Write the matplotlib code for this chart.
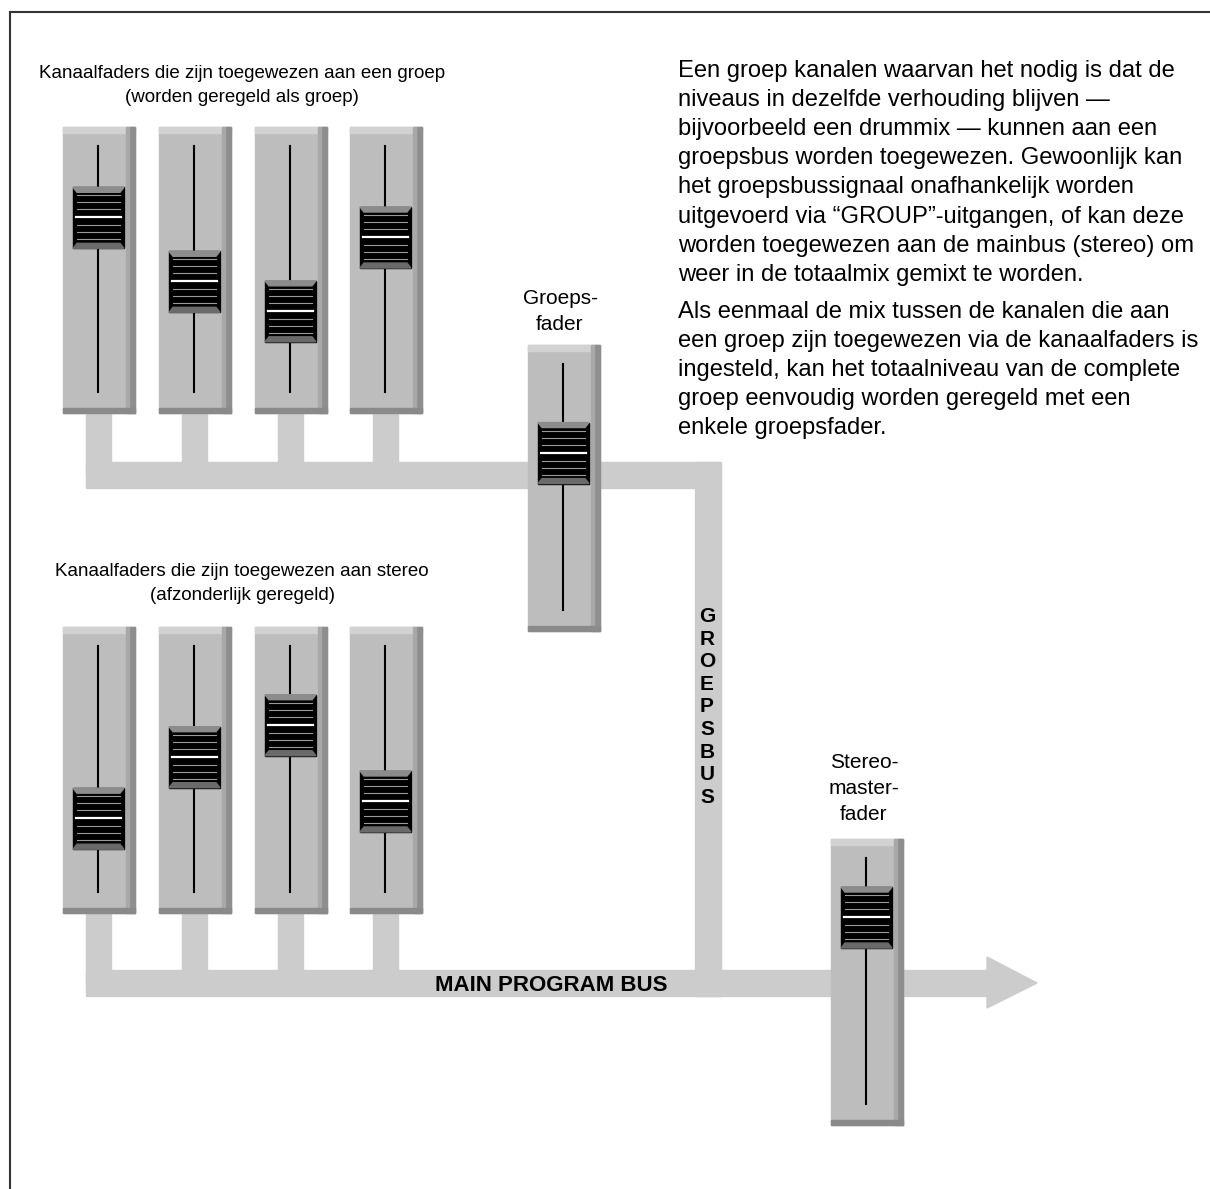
import matplotlib.pyplot as plt
from matplotlib.patches import Rectangle, Polygon

plt.rcParams['font.family'] = ['Liberation Sans', 'DejaVu Sans']

# fader levels (0 = bottom, 1 = top)
group_levels = [0.71, 0.45, 0.33, 0.63]
stereo_levels = [0.30, 0.55, 0.68, 0.37]
group_master_level = 0.64
stereo_master_level = 0.76

para1 = ["Een groep kanalen waarvan het nodig is dat de",
         "niveaus in dezelfde verhouding blijven \u2014",
         "bijvoorbeeld een drummix \u2014 kunnen aan een",
         "groepsbus worden toegewezen. Gewoonlijk kan",
         "het groepsbussignaal onafhankelijk worden",
         "uitgevoerd via \u201cGROUP\u201d-uitgangen, of kan deze",
         "worden toegewezen aan de mainbus (stereo) om",
         "weer in de totaalmix gemixt te worden."]
para2 = ["Als eenmaal de mix tussen de kanalen die aan",
         "een groep zijn toegewezen via de kanaalfaders is",
         "ingesteld, kan het totaalniveau van de complete",
         "groep eenvoudig worden geregeld met een",
         "enkele groepsfader."]

BUS = '#cccccc'
STRIP = '#bdbdbd'

fig = plt.figure(figsize=(12.1, 11.89), dpi=100)
ax = fig.add_axes([0, 0, 1, 1])
ax.set_xlim(0, 1210)
ax.set_ylim(1189, 0)
ax.axis('off')

# frame (only top and left visible)
ax.plot([10, 1210], [12, 12], color='#333333', lw=1.5)
ax.plot([10, 10], [12, 1189], color='#333333', lw=1.5)


def fader(x, top, level, w=72, h=286):
    # strip body
    ax.add_patch(Rectangle((x, top), w, h, color=STRIP, zorder=3))
    ax.add_patch(Rectangle((x, top), w, 6, color='#d2d2d2', zorder=3))
    ax.add_patch(Rectangle((x + w - 6, top), 6, h, color='#8e8e8e', zorder=3))
    ax.add_patch(Rectangle((x + w - 9, top), 3, h, color='#a8a8a8', zorder=3))
    ax.add_patch(Rectangle((x, top + h - 5), w, 5, color='#8a8a8a', zorder=3))
    cx = x + 35
    t0, t1 = top + 19, top + 265
    ax.plot([cx, cx], [t0, t1], color='black', lw=1.5, zorder=4)
    # knob
    kc = t1 - level * (t1 - t0)
    kw, kh = 51, 61
    kx, ky = cx - 25, kc - 30
    ax.add_patch(Rectangle((kx, ky), kw, kh, color='black', zorder=5))
    ax.add_patch(Polygon([(kx, ky), (kx + kw, ky), (kx + kw - 4, ky + 5), (kx + 4, ky + 5)],
                         color='#8c8c8c', zorder=6))
    ax.add_patch(Polygon([(kx + 4, ky + kh - 5), (kx + kw - 4, ky + kh - 5), (kx + kw, ky + kh), (kx, ky + kh)],
                         color='#6a6a6a', zorder=6))
    for off in [8, 15, 22, 38, 45, 52]:
        ax.plot([kx + 4, kx + kw - 4], [ky + off, ky + off], color='#9a9a9a', lw=0.8, zorder=7)
    ax.plot([kx + 3, kx + kw - 3], [ky + 30, ky + 30], color='white', lw=1.6, zorder=7)


# buses
ax.add_patch(Rectangle((86, 462), 634, 26, color=BUS, zorder=1))
ax.add_patch(Rectangle((695, 462), 26, 534, color=BUS, zorder=1))
ax.add_patch(Rectangle((86, 970), 905, 26, color=BUS, zorder=1))
ax.add_patch(Polygon([(987, 957), (1037, 983), (987, 1008)], color=BUS, zorder=1))

group_x = [63, 159, 255, 350]
stereo_x = [63, 159, 255, 350]
for x, lv in zip(group_x, group_levels):
    ax.add_patch(Rectangle((x + 23, 405), 25, 70, color=BUS, zorder=1))
    fader(x, 127, lv)
for x, lv in zip(stereo_x, stereo_levels):
    ax.add_patch(Rectangle((x + 23, 905), 25, 80, color=BUS, zorder=1))
    fader(x, 627, lv)
fader(528, 345, group_master_level)
fader(831, 839, stereo_master_level)

fs = 13.5
ax.text(242, 73, "Kanaalfaders die zijn toegewezen aan een groep", ha='center', va='center', fontsize=fs)
ax.text(242, 97, "(worden geregeld als groep)", ha='center', va='center', fontsize=fs)
ax.text(242, 572, "Kanaalfaders die zijn toegewezen aan stereo", ha='center', va='center', fontsize=fs)
ax.text(242, 596, "(afzonderlijk geregeld)", ha='center', va='center', fontsize=fs)
ax.text(560, 304, "Groeps-", ha='center', va='baseline', fontsize=15)
ax.text(560, 330, "fader", ha='center', va='baseline', fontsize=15)
for i, s in enumerate(["Stereo-", "master-", "fader"]):
    ax.text(864, 768 + 26 * i, s, ha='center', va='baseline', fontsize=15)

for i, ch in enumerate("GROEPSBUS"):
    ax.text(707, 622 + 22.6 * i, ch, ha='center', va='baseline', fontsize=15, fontweight='bold', zorder=8)
ax.text(551, 991, "MAIN PROGRAM BUS", ha='center', va='baseline', fontsize=16, fontweight='bold', zorder=8)

for i, s in enumerate(para1):
    ax.text(678, 77 + 29.1 * i, s, ha='left', va='baseline', fontsize=17.1)
for i, s in enumerate(para2):
    ax.text(678, 318 + 29.1 * i, s, ha='left', va='baseline', fontsize=17.1)

plt.savefig('out.png', dpi=100)
